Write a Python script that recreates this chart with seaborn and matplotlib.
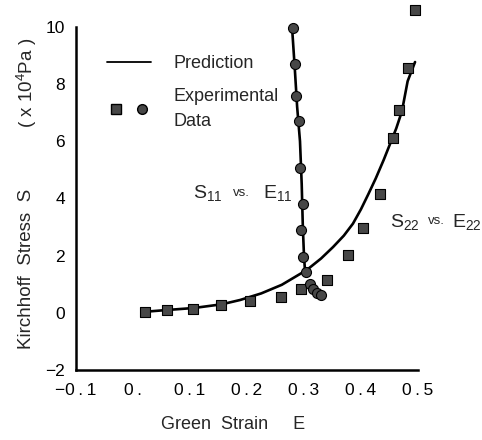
import numpy as np
import pandas as pd
import matplotlib
matplotlib.use("Agg")
import matplotlib.pyplot as plt
import seaborn as sns
from matplotlib.lines import Line2D
from matplotlib.legend_handler import HandlerTuple

# Experimental data, S22 vs E22 (squares)
e22_exp = [0.02, 0.06, 0.105, 0.155, 0.205, 0.26, 0.295, 0.34, 0.377, 0.403, 0.433, 0.456, 0.467, 0.482, 0.495]
s22_exp = [0.04, 0.10, 0.14, 0.28, 0.42, 0.56, 0.84, 1.15, 2.03, 2.95, 4.14, 6.10, 7.10, 8.55, 10.6]

# Experimental data, S11 vs E11 (circles)
e11_exp = [0.280, 0.284, 0.286, 0.291, 0.293, 0.298, 0.295, 0.298, 0.303, 0.310, 0.316, 0.323, 0.330]
s11_exp = [9.96, 8.70, 7.58, 6.70, 5.05, 3.82, 2.88, 1.96, 1.44, 1.02, 0.84, 0.70, 0.64]

# Model prediction curves
e22_pred = [0.019, 0.06, 0.107, 0.156, 0.188, 0.225, 0.261, 0.305, 0.33, 0.351, 0.37, 0.386, 0.40,
            0.413, 0.426, 0.44, 0.452, 0.462, 0.472, 0.482, 0.495]
s22_pred = [0.035, 0.10, 0.17, 0.30, 0.45, 0.68, 0.98, 1.50, 1.90, 2.30, 2.70, 3.12, 3.62,
            4.15, 4.70, 5.35, 5.95, 6.45, 7.05, 8.10, 8.77]
e11_pred = [0.279, 0.284, 0.288, 0.293, 0.296, 0.298, 0.300, 0.302]
s11_pred = [10.0, 8.5, 7.2, 6.0, 4.5, 3.0, 2.0, 1.4]

xticks = [-0.1, 0.0, 0.1, 0.2, 0.3, 0.4, 0.5]
xtick_labels = ["\u22120\u2009.\u20091", "0\u2009.", "0\u2009.\u20091", "0\u2009.\u20092",
                "0\u2009.\u20093", "0\u2009.\u20094", "0\u2009.\u20095"]
yticks = [-2, 0, 2, 4, 6, 8, 10]

sns.set_theme(style="white")
plt.rcParams['font.family'] = ['Liberation Sans', 'DejaVu Sans']
plt.rcParams['mathtext.default'] = 'regular'

fig = plt.figure(figsize=(4.82, 4.40), dpi=100)
ax = fig.add_axes([0.158, 0.159, 0.709, 0.78])

pred22 = pd.DataFrame({'E': e22_pred, 'S': s22_pred})
pred11 = pd.DataFrame({'E': e11_pred, 'S': s11_pred})
exp22 = pd.DataFrame({'E': e22_exp, 'S': s22_exp})
exp11 = pd.DataFrame({'E': e11_exp, 'S': s11_exp})

sns.lineplot(data=pred22, x='E', y='S', sort=False, color='black', lw=1.9, ax=ax)
sns.lineplot(data=pred11, x='E', y='S', sort=False, color='black', lw=1.9, ax=ax)
sns.scatterplot(data=exp22, x='E', y='S', marker='s', s=48, color='#474747',
                edgecolor='black', linewidth=0.8, ax=ax, clip_on=False, zorder=3)
sns.scatterplot(data=exp11, x='E', y='S', marker='o', s=52, color='#474747',
                edgecolor='black', linewidth=0.8, ax=ax, clip_on=False, zorder=3)

ax.set_xlim(-0.1, 0.5)
ax.set_ylim(-2, 10)
ax.set_xticks(xticks)
ax.set_xticklabels(xtick_labels)
ax.set_yticks(yticks)
ax.tick_params(axis='both', direction='in', length=10, width=1.5, labelsize=12.5, colors='black')
ax.tick_params(axis='x', pad=9)
ax.tick_params(axis='y', pad=8)
for side in ['top', 'right']:
    ax.spines[side].set_visible(False)
for side in ['left', 'bottom']:
    ax.spines[side].set_linewidth(1.8)
    ax.spines[side].set_color('black')
ax.set_xlabel('')
ax.set_ylabel('')

# axis titles
fig.text(0.483, 0.036, "Green  Strain     E", ha='center', va='center', fontsize=13)
fig.text(0.055, 0.39, "Kirchhoff  Stress  S", ha='center', va='center', rotation=90, fontsize=13.5)
fig.text(0.055, 0.811, "( x 10$^{4}$Pa )", ha='center', va='center', rotation=90, fontsize=13.5)

# curve labels
ax.text(0.105, 4.0, "S$_{11}$", fontsize=14, ha='left', va='baseline')
ax.text(0.176, 4.1, "vs.", fontsize=9.5, ha='left', va='baseline')
ax.text(0.228, 4.0, "E$_{11}$", fontsize=14, ha='left', va='baseline')
ax.text(0.451, 3.0, "S$_{22}$", fontsize=14, ha='left', va='baseline', clip_on=False)
ax.text(0.517, 3.1, "vs.", fontsize=9.5, ha='left', va='baseline', clip_on=False)
ax.text(0.560, 3.0, "E$_{22}$", fontsize=14, ha='left', va='baseline', clip_on=False)

# legend
h_line = Line2D([], [], color='black', lw=1.3)
h_sq = Line2D([], [], marker='s', ls='', color='#474747', mec='black', ms=6.5)
h_ci = Line2D([], [], marker='o', ls='', color='#474747', mec='black', ms=7)
leg = ax.legend([h_line, (h_sq, h_ci)], ["Prediction", "Experimental\nData"],
                handler_map={tuple: HandlerTuple(ndivide=None, pad=0.55)},
                loc='upper left', bbox_to_anchor=(0.065, 0.943), frameon=False,
                borderpad=0, fontsize=13, handlelength=2.4, handletextpad=1.25,
                labelspacing=0.85)
leg.get_texts()[1].set_linespacing(1.6)

fig.savefig("out.png", dpi=100)
